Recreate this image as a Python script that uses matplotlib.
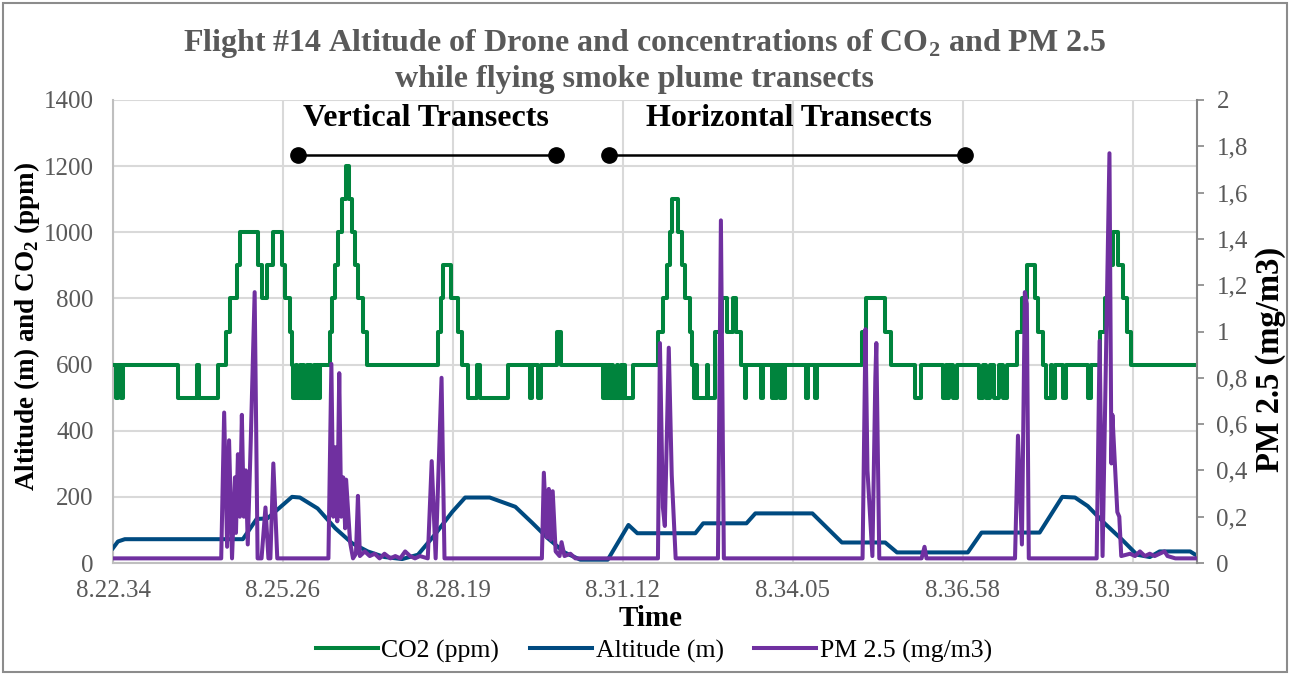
import matplotlib
matplotlib.use("Agg")
import matplotlib.pyplot as plt
from matplotlib.patches import Rectangle

plt.rcParams['font.family'] = ['Liberation Serif', 'DejaVu Serif']
plt.rcParams['mathtext.fontset'] = 'custom'
plt.rcParams['mathtext.rm'] = 'Liberation Serif'
plt.rcParams['mathtext.bf'] = 'Liberation Serif:bold'

# time axis: seconds elapsed since 8:22:34
x_ticks_sec = [0, 172.8, 345.6, 518.4, 691.2, 864.0, 1036.8]
x_tick_labels = ["8.22.34", "8.25.26", "8.28.19", "8.31.12", "8.34.05", "8.36.58", "8.39.50"]
x_end = 1102

# CO2 (ppm) - step changes (time, value)
co2_t = [0, 3, 5, 8, 10, 66, 85, 87, 107, 115, 119, 126, 129, 147, 151, 157, 163, 172, 175, 180, 182,
         183, 186, 187, 190, 191, 193, 194, 197, 198, 200, 201, 204, 205, 207, 208, 210,
         221, 223, 226, 229, 233, 237, 240, 243, 246, 249, 254, 258,
         330, 333, 335, 344, 351, 355, 361, 370, 373, 402, 424, 426, 432, 435, 451, 455,
         498, 500, 501, 503, 505, 507, 508, 512, 513, 516, 517, 519, 520, 529,
         554, 559, 563, 566, 568, 574, 578, 582, 587, 589, 591, 593, 594, 604, 605,
         612, 619, 624, 630, 633, 638, 642, 644, 659, 661, 670, 672, 673, 675, 678, 680, 681, 683,
         705, 707, 714, 716, 761, 766, 785, 791, 815, 821, 844, 847, 848, 850, 854, 858,
         880, 884, 888, 892, 896, 901, 905, 909, 919, 924, 929, 937, 940, 945, 949, 954, 955, 958,
         966, 969, 991, 994, 1003, 1008, 1012, 1017, 1022, 1027, 1031, 1035, 1102]
co2_v = [600, 500, 600, 500, 600, 500, 600, 500, 600, 700, 800, 900, 1000, 900, 800, 900, 1000, 900, 800, 700, 600,
         500, 600, 500, 600, 500, 600, 500, 600, 500, 600, 500, 600, 500, 600, 500, 600,
         700, 800, 900, 1000, 1100, 1200, 1100, 1000, 900, 800, 700, 600,
         700, 800, 900, 800, 700, 600, 500, 600, 500, 600, 500, 600, 500, 600, 700, 600,
         500, 600, 500, 600, 500, 600, 500, 600, 500, 600, 500, 600, 500, 600,
         700, 800, 900, 1000, 1100, 1000, 900, 800, 700, 600, 500, 600, 500, 600, 500,
         700, 800, 700, 800, 700, 600, 500, 600, 500, 600, 500, 600, 500, 600, 500, 600, 500, 600,
         500, 600, 500, 600, 700, 800, 700, 600, 500, 600, 500, 600, 500, 600, 500, 600,
         500, 600, 500, 600, 500, 600, 500, 600, 700, 800, 900, 800, 700, 600, 500, 600, 500, 600,
         500, 600, 500, 600, 700, 800, 900, 1000, 900, 800, 700, 600, 600]

# Altitude (m)
alt_t = [0, 5, 12, 132, 146, 157, 182, 190, 208, 226, 243, 259, 276, 294, 310, 327, 345, 358, 383,
         409, 426, 442, 459, 475, 503, 524, 533, 592, 600, 644, 653, 711, 741, 785, 797, 869, 883,
         942, 965, 978, 991, 1008, 1026, 1041, 1054, 1064, 1095, 1102]
alt_v = [45, 65, 72, 72, 133, 135, 200, 198, 165, 105, 60, 35, 18, 12, 25, 85, 155, 198, 198,
         170, 122, 75, 32, 10, 10, 115, 90, 90, 120, 120, 150, 150, 62, 62, 32, 32, 92,
         92, 200, 198, 172, 120, 70, 25, 18, 35, 35, 22]

# PM 2.5 (mg/m3)
pm_t = [0, 110, 113, 116, 118, 121, 124, 125, 127, 129, 131, 133, 135, 137, 140, 144, 147, 151, 155, 158, 160, 163, 167,
        219, 222, 224, 226, 228, 230, 232, 234, 236, 237, 241, 244, 247, 249, 251, 256, 261, 266, 271, 276,
        282, 287, 292, 297, 302, 307, 312, 320, 324, 328, 334, 337,
        436, 438, 441, 443, 445, 447, 450, 454, 456, 459, 465, 470,
        554, 556, 559, 561, 565, 568, 572, 615, 618, 621,
        762, 765, 767, 772, 775, 776, 779, 822, 825, 827,
        917, 920, 924, 927, 929, 931, 1000, 1003, 1006, 1013, 1015, 1016, 1021, 1023, 1025,
        1034, 1039, 1044, 1049, 1054, 1059, 1064, 1069, 1072, 1080, 1102]
pm_v = [0.02, 0.02, 0.65, 0.07, 0.53, 0.02, 0.37, 0.13, 0.47, 0.2, 0.64, 0.2, 0.4, 0.08, 0.52, 1.17, 0.02, 0.02, 0.24, 0.02, 0.02, 0.43, 0.02,
        0.02, 0.86, 0.2, 0.5, 0.18, 0.82, 0.2, 0.37, 0.15, 0.36, 0.09, 0.02, 0.04, 0.29, 0.03, 0.05, 0.03, 0.04, 0.02, 0.04,
        0.02, 0.03, 0.02, 0.05, 0.03, 0.02, 0.03, 0.02, 0.44, 0.02, 0.8, 0.02,
        0.02, 0.39, 0.11, 0.32, 0.1, 0.31, 0.05, 0.03, 0.09, 0.03, 0.04, 0.02,
        0.02, 0.95, 0.24, 0.16, 0.93, 0.38, 0.02, 0.02, 1.48, 0.02,
        0.02, 1.01, 0.4, 0.03, 0.8, 0.95, 0.02, 0.02, 0.07, 0.02,
        0.02, 0.55, 0.08, 1.17, 1.12, 0.02, 0.02, 0.96, 0.03, 1.77, 0.43, 0.64, 0.22, 0.2, 0.03,
        0.04, 0.03, 0.05, 0.03, 0.04, 0.03, 0.04, 0.05, 0.03, 0.02, 0.02]

left_ticks = [0, 200, 400, 600, 800, 1000, 1200, 1400]
right_ticks = [0, 0.2, 0.4, 0.6, 0.8, 1.0, 1.2, 1.4, 1.6, 1.8, 2.0]
right_tick_labels = ["0", "0,2", "0,4", "0,6", "0,8", "1", "1,2", "1,4", "1,6", "1,8", "2"]

# transect annotations: (start, end)
vert_span = (188, 450)
horiz_span = (504, 866)
span_level = 1234
label_level = 1345

GREEN = "#00843D"
BLUE = "#004A80"
PURPLE = "#7030A0"
GRID = "#D9D9D9"
TXT = "#595959"

fig = plt.figure(figsize=(12.9, 6.75), dpi=100)
ax = fig.add_axes([113/1290, 1-563/675, (1197-113)/1290, (563-100)/675])
ax2 = ax.twinx()

l1, = ax.plot(co2_t, co2_v, color=GREEN, lw=2.9, drawstyle='steps-post', label='CO2 (ppm)', zorder=3)
l2, = ax.plot(alt_t, alt_v, color=BLUE, lw=2.9, label='Altitude (m)', zorder=4, solid_joinstyle='round')
l3, = ax2.plot(pm_t, pm_v, color=PURPLE, lw=2.9, label='PM 2.5 (mg/m3)', zorder=5, solid_joinstyle='round')

ax.set_xlim(0, x_end)
ax.set_ylim(0, 1400)
ax2.set_ylim(0, 2)
ax.set_xticks(x_ticks_sec)
ax.set_xticklabels(x_tick_labels)
ax.set_yticks(left_ticks)
ax2.set_yticks(right_ticks)
ax2.set_yticklabels(right_tick_labels)

ax.set_axisbelow(True)
ax.grid(True, color=GRID, lw=1.5)
ax.spines['top'].set_visible(False)
ax2.spines['top'].set_visible(False)
ax.spines['left'].set_color('#BFBFBF')
ax.spines['bottom'].set_color('#BFBFBF')
ax2.spines['left'].set_visible(False)
ax2.spines['bottom'].set_visible(False)
ax2.spines['right'].set_color('#868686')
ax2.spines['right'].set_linewidth(1.5)
ax.spines['right'].set_visible(False)
ax.spines['left'].set_linewidth(1.5)
ax.spines['bottom'].set_linewidth(1.5)

ax.tick_params(axis='both', length=0, labelsize=18, labelcolor=TXT)
ax.tick_params(axis='y', pad=14)
ax.tick_params(axis='x', pad=12)
ax2.tick_params(axis='y', length=5, width=1.2, color='#868686', labelsize=18, labelcolor=TXT, pad=9)

# transect markers
for (a, b) in [vert_span, horiz_span]:
    ax.plot([a, b], [span_level, span_level], color='black', lw=1.8, marker='o', markersize=11,
            clip_on=False, zorder=6)
ax.text(sum(vert_span)/2 - 1, label_level, "Vertical Transects", ha='center', va='center',
        fontsize=23, fontweight='bold', color='black', zorder=6)
ax.text(sum(horiz_span)/2 + 2, label_level, "Horizontal Transects", ha='center', va='center',
        fontsize=23, fontweight='bold', color='black', zorder=6)

# titles and labels
fig.text(645/1290, 1-43/675, r"Flight #14 Altitude of Drone and concentrations of CO$_\mathbf{2}$ and PM 2.5",
         ha='center', va='center', fontsize=23, fontweight='bold', color=TXT)
fig.text(634/1290, 1-79/675, "while flying smoke plume transects",
         ha='center', va='center', fontsize=23, fontweight='bold', color=TXT)
fig.text(27/1290, 1-326/675, r"Altitude (m) and CO$_\mathbf{2}$ (ppm)", rotation=90,
         ha='center', va='center', fontsize=19.5, fontweight='bold', color='black')
fig.text(1271/1290, 1-359/675, "PM 2.5 (mg/m3)", rotation=90,
         ha='center', va='center', fontsize=23.5, fontweight='bold', color='black')
fig.text(651/1290, 1-619/675, "Time", ha='center', va='center', fontsize=21,
         fontweight='bold', color='black')

fig.legend(handles=[l1, l2, l3], loc='center', bbox_to_anchor=(654/1290, 1-651/675), ncol=3,
           frameon=False, fontsize=18.5, handlelength=2.4, columnspacing=1.2, handletextpad=0.15)

fig.patches.append(Rectangle((0.002, 0.004), 0.996, 0.992, transform=fig.transFigure,
                             fill=False, edgecolor='#8C8C8C', lw=1.5))

fig.savefig("out.png", dpi=100)
